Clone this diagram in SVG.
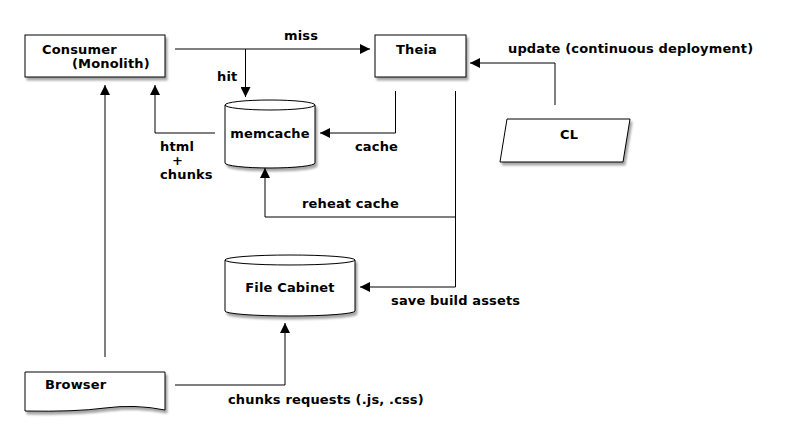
<svg xmlns="http://www.w3.org/2000/svg" width="800" height="448" viewBox="0 0 800 448">
<defs>
<style>
.n{fill:#fff;stroke:#000;stroke-width:1;filter:url(#sh)}
.c{fill:none;stroke:#000;stroke-width:1}
text{font-family:"DejaVu Sans",sans-serif;font-weight:bold;font-size:13px;letter-spacing:0.15px;fill:#000}
</style>
<filter id="sh" x="-10%" y="-10%" width="130%" height="140%">
<feDropShadow dx="2" dy="3" stdDeviation="1.2" flood-color="#000" flood-opacity="0.35"/>
</filter>
<marker id="a" markerWidth="10" markerHeight="10" refX="10" refY="5" orient="auto" markerUnits="userSpaceOnUse">
<path d="M0,0 L10,5 L0,10 Z" fill="#000"/>
</marker>
</defs>
<rect width="800" height="448" fill="#fff"/>
<g id="connectors">
<path class="c" d="M175,49 H370" marker-end="url(#a)"/>
<path class="c" d="M245.5,49 V97" marker-end="url(#a)"/>
<path class="c" d="M215,133 H155 V85" marker-end="url(#a)"/>
<path class="c" d="M395.5,91 V133 H320" marker-end="url(#a)"/>
<path class="c" d="M555,105 V63 H470" marker-end="url(#a)"/>
<path class="c" d="M455.5,91 V287 H360" marker-end="url(#a)"/>
<path class="c" d="M455.5,217 H265 V168" marker-end="url(#a)"/>
<path class="c" d="M105,357 V85" marker-end="url(#a)"/>
<path class="c" d="M175,385 H285 V323" marker-end="url(#a)"/>
<text x="284" y="40">miss</text>
<text x="217" y="81">hit</text>
<text x="160" y="151">html</text>
<text x="172" y="165">+</text>
<text x="160" y="179">chunks</text>
<text x="355" y="151">cache</text>
<text x="508" y="53">update (continuous deployment)</text>
<text x="302" y="208">reheat cache</text>
<text x="391" y="305">save build assets</text>
<text x="228" y="404">chunks requests (.js, .css)</text>
</g>
<g id="consumer">
<rect class="n" x="25" y="35" width="140" height="42"/>
<text x="42" y="54">Consumer</text>
<text x="72" y="68">(Monolith)</text>
</g>
<g id="theia">
<rect class="n" x="375" y="35" width="91" height="42"/>
<text x="396" y="54">Theia</text>
</g>
<g id="memcache">
<path class="n" d="M225,105 A45,5 0 0 1 315,105 V163 A45,5 0 0 1 225,163 Z"/>
<path class="c" d="M225,105 A45,5 0 0 0 315,105"/>
<text x="270" y="138" text-anchor="middle">memcache</text>
</g>
<g id="cl">
<polygon class="n" points="507,119 630,119 623,162 500,162"/>
<text x="569" y="139" text-anchor="middle">CL</text>
</g>
<g id="filecabinet">
<path class="n" d="M225,260 A65,5 0 0 1 355,260 V311 A65,5 0 0 1 225,311 Z"/>
<path class="c" d="M225,260 A65,5 0 0 0 355,260"/>
<text x="290" y="292" text-anchor="middle">File Cabinet</text>
</g>
<g id="browser">
<path class="n" d="M25,372 H165 V410 Q135,404 105,408 T25,411 Z"/>
<text x="45" y="389">Browser</text>
</g>
</svg>
